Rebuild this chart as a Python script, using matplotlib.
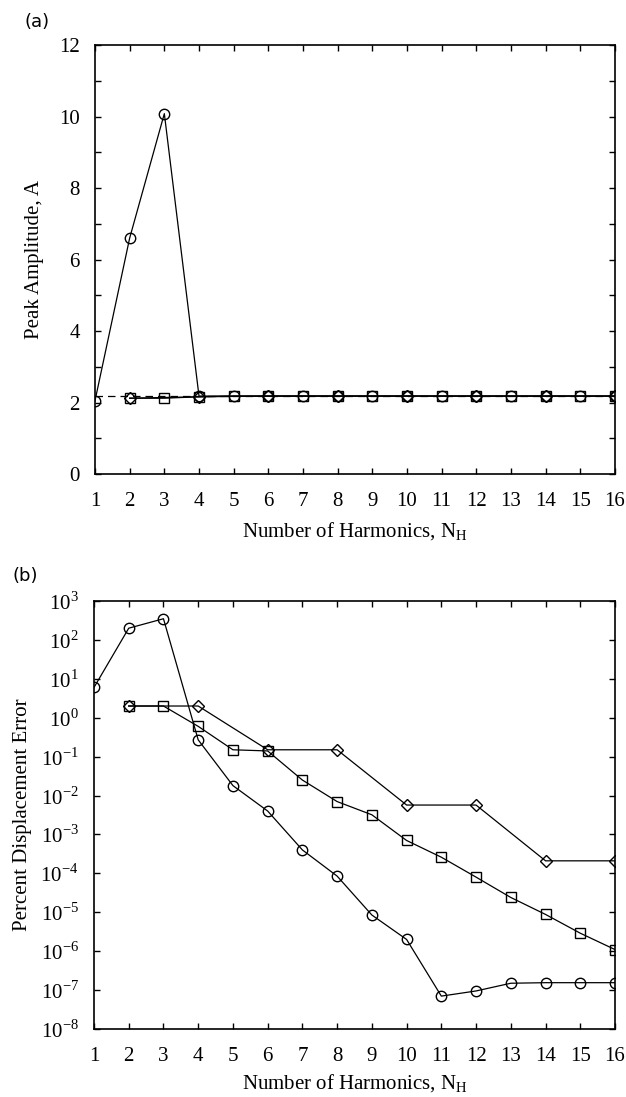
import numpy as np
import matplotlib.pyplot as plt
from matplotlib.ticker import FixedLocator

plt.rcParams['font.family'] = ['Liberation Serif', 'DejaVu Serif']
plt.rcParams['mathtext.fontset'] = 'custom'
plt.rcParams['mathtext.rm'] = 'Liberation Serif'

# panel (a): peak amplitude
nh_circ = np.arange(1, 17)
amp_circ = [2.05, 6.6, 10.08, 2.18, 2.18, 2.18, 2.18, 2.18, 2.18, 2.18, 2.18, 2.18, 2.18, 2.18, 2.18, 2.18]
nh_sq = np.arange(2, 17)
amp_sq = [2.12, 2.12, 2.16, 2.18, 2.18, 2.18, 2.18, 2.18, 2.18, 2.18, 2.18, 2.18, 2.18, 2.18, 2.18]
nh_dia = np.arange(2, 17, 2)
amp_dia = [2.12, 2.16, 2.18, 2.18, 2.18, 2.18, 2.18, 2.18]
amp_ref = 2.18

# panel (b): percent displacement error
err_circ = [6, 200, 350, 0.27, 0.018, 0.004, 4e-4, 8.5e-5, 8.5e-6, 2e-6, 7e-8, 9.5e-8, 1.5e-7, 1.55e-7, 1.55e-7, 1.55e-7]
err_sq = [2, 2, 0.6, 0.15, 0.14, 0.025, 0.007, 0.0032, 7e-4, 2.6e-4, 8e-5, 2.4e-5, 8.8e-6, 2.9e-6, 1.1e-6]
err_dia = [2, 2, 0.15, 0.15, 0.0057, 0.0057, 2.1e-4, 2.1e-4]

W, H = 626, 1097
fig = plt.figure(figsize=(W / 100, H / 100), dpi=100)
ax1 = fig.add_axes([95 / W, 1 - 474 / H, 520 / W, 429 / H])
ax2 = fig.add_axes([94 / W, 1 - 1029 / H, 521 / W, 428 / H])

mk = dict(color='k', lw=0.9, mfc='none', mec='k', mew=1.0)

ax1.plot([1, 16], [amp_ref, amp_ref], color='k', lw=0.9, dashes=(6, 4))
ax1.plot(nh_dia, amp_dia, marker='D', ms=6, **mk)
ax1.plot(nh_sq, amp_sq, marker='s', ms=6.5, **mk)
ax1.plot(nh_circ, amp_circ, marker='o', ms=7.5, **mk)
ax1.set_ylim(0, 12)
ax1.set_yticks(np.arange(0, 13, 2))
ax1.yaxis.set_minor_locator(FixedLocator(np.arange(1, 12, 2)))
ax1.set_ylabel('Peak Amplitude, A', fontsize=15, va='center')
ax1.yaxis.set_label_coords(-0.117, 0.5)
ax1.set_xlabel('Number of Harmonics, N$_\\mathrm{H}$', fontsize=15, va='baseline')
ax1.xaxis.set_label_coords(0.5, -0.147)

ax2.plot(nh_dia, err_dia, marker='D', ms=6, **mk)
ax2.plot(nh_sq, err_sq, marker='s', ms=6.5, **mk)
ax2.plot(nh_circ, err_circ, marker='o', ms=7.5, **mk)
ax2.set_yscale('log')
ax2.set_ylim(1e-8, 1e3)
ax2.set_yticks([10.0 ** k for k in range(-8, 4)])
ax2.set_yticklabels(['$10^{%d}$' % k for k in range(-8, 4)])
ax2.yaxis.set_minor_locator(FixedLocator([]))
ax2.set_ylabel('Percent Displacement Error', fontsize=15, va='center')
ax2.yaxis.set_label_coords(-0.138, 0.5)
ax2.set_xlabel('Number of Harmonics, N$_\\mathrm{H}$', fontsize=15, va='baseline')
ax2.xaxis.set_label_coords(0.5, -0.140)

for ax in [ax1, ax2]:
    ax.set_xlim(1, 16)
    ax.set_xticks(np.arange(1, 17))
    ax.tick_params(which='both', direction='in', top=True, right=True, labelsize=15)
    ax.tick_params(axis='x', pad=13)
    ax.tick_params(axis='y', pad=11)
    ax.tick_params(which='major', length=4.5, width=1)
    ax.tick_params(which='minor', length=4.5, width=1)
    for s in ax.spines.values():
        s.set_linewidth(1.2)

fig.text(25 / W, 1 - 22 / H, '(a)', family='DejaVu Sans', fontsize=13, va='center')
fig.text(12 / W, 1 - 576 / H, '(b)', family='DejaVu Sans', fontsize=13, va='center')

fig.savefig('out.png', dpi=100)
